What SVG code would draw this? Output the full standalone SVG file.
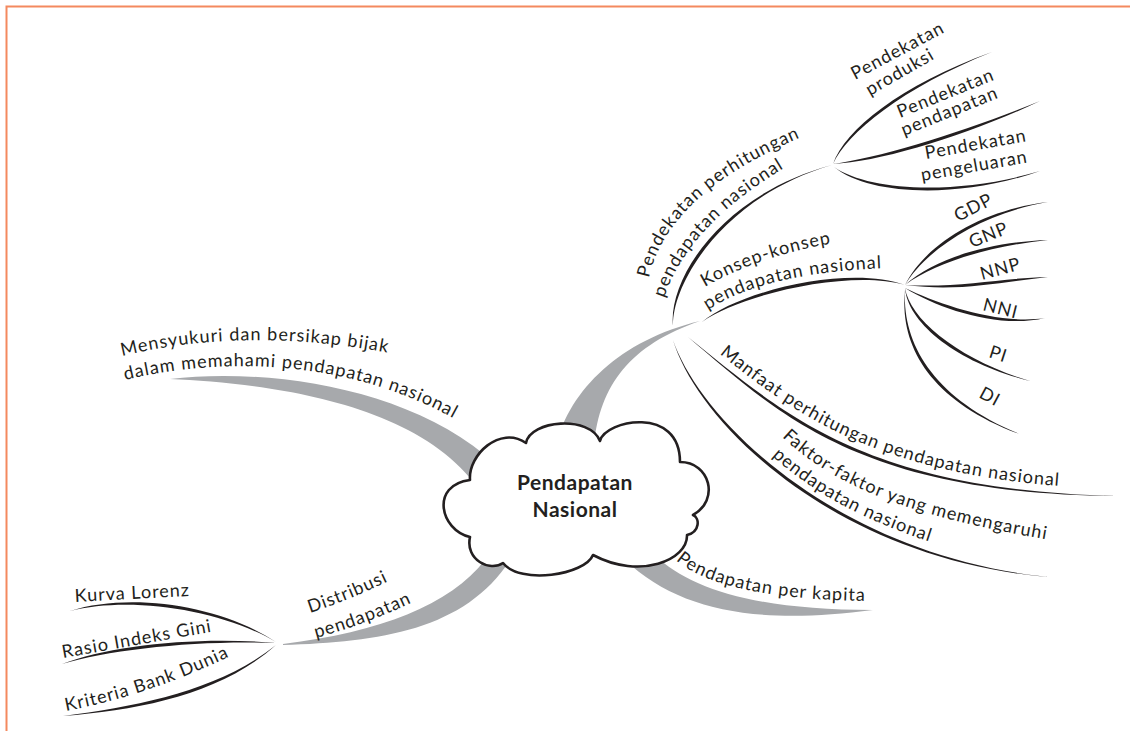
<svg xmlns="http://www.w3.org/2000/svg" xmlns:xlink="http://www.w3.org/1999/xlink" width="1130" height="731" viewBox="0 0 1130 731">
  <style>
    .frame { stroke: #f4895f; stroke-width: 2; fill: none; }
    .main { fill: #a7a9ac; }
    .sub { fill: #231f20; }
    .lbl { font-family: Lato, "Open Sans", "Liberation Sans", sans-serif; font-size: 18px; letter-spacing: 1px; fill: #231f20; }
    .core { font-family: Lato, "Open Sans", "Liberation Sans", sans-serif; font-size: 21px; letter-spacing: 0.5px; font-weight: bold; fill: #231f20; text-anchor: middle; }
    .cloud { fill: #ffffff; stroke: #231f20; stroke-width: 2.6; stroke-linejoin: round; }
  </style>
  <defs>
    <!-- baselines for curved labels -->
    <path id="p-mensy1" d="M122,356 Q250,325 400,355"/>
    <path id="p-mensy2" d="M125,380 C230,355 360,360 470,428"/>
    <path id="p-distr1" d="M310,613 Q350,600 395,578"/>
    <path id="p-distr2" d="M316,638 Q365,625 422,598"/>
    <path id="p-kapita" d="M676,560 C700,582 760,600 870,601"/>
    <path id="p-perh1" d="M649,278 Q668,190 814,132"/>
    <path id="p-perh2" d="M664,298 Q690,220 800,159"/>
    <path id="p-konsep1" d="M705,287 Q760,255 840,242"/>
    <path id="p-konsep2" d="M708,310 Q765,272 890,268"/>
    <path id="p-manfaat" d="M690,330 C782,403 862,483 1120,489"/>
    <path id="p-faktor1" d="M782,437 C830,482 900,515 1050,540"/>
    <path id="p-faktor2" d="M772,456 C810,490 860,520 940,545"/>
    <path id="p-kriteria" d="M66,711 Q150,695 235,654"/>
  </defs>

  <rect width="1130" height="731" fill="#ffffff"/>
  <!-- page frame -->
  <path class="frame" d="M6.5,731 L6.5,6.5 L1130,6.5"/>

  <g id="connectors">
    <!-- thick grey main branches -->
    <path class="main" d="M556,445 C570,390 620,340 700,321 C630,345 600,385 594,445 Z"/>
    <path class="main" d="M170,379 C260,368 400,385 485,455 L470,478 C405,400 260,383 170,379 Z"/>
    <path class="main" d="M283,645 C380,642 465,630 510,560 L485,560 C450,605 380,632 283,644 Z"/>
    <path class="main" d="M655,555 C690,590 760,610 873,610 C760,625 680,612 625,560 Z"/>

    <!-- tapered black sub-branches -->
    <path class="sub" d="M673,326 C668,280 720,195 832,165 C722,197 672,284 673,326 Z"/>
    <path class="sub" d="M833,164 C845,130 900,85 992,52 C902,88 847,133 833,164 Z"/>
    <path class="sub" d="M833,164 C880,158 970,130 1040,101 C971,134 881,162 833,164 Z"/>
    <path class="sub" d="M834,167 C870,192 960,195 1040,171 C960,199 870,196 834,167 Z"/>
    <path class="sub" d="M702,322 C740,290 850,265 905,285 C851,269 741,294 702,322 Z"/>
    <path class="sub" d="M905,285 C925,245 980,210 1048,202 C982,213.5 927,248.5 905,285 Z"/>
    <path class="sub" d="M905,285 C935,258 990,242 1048,240 C991,246 936,262 905,285 Z"/>
    <path class="sub" d="M905,285 C960,288 1000,278 1048,277 C1000,282 960,292 905,285 Z"/>
    <path class="sub" d="M905,288 C940,305 1000,325 1045,318 C999,329 939,309 905,288 Z"/>
    <path class="sub" d="M905,288 C910,320 960,360 1030,381 C957.6,363.2 907.6,323.2 905,288 Z"/>
    <path class="sub" d="M905,290 C902,345 935,400 1022,435 C932,402.5 899,347.5 905,290 Z"/>
    <path class="sub" d="M688,337 C780,410 860,490 1117,496 C858.6,493.8 778.6,413.8 688,337 Z"/>
    <path class="sub" d="M673,340 C700,420 840,560 1060,578 C838,563.4 698,423.4 673,340 Z"/>
    <path class="sub" d="M70,611 C130,592 220,605 276,642 C219.4,609 129.4,596 70,611 Z"/>
    <path class="sub" d="M62,664 C110,645 200,636 276,643 C200.4,640 110.4,649 62,664 Z"/>
    <path class="sub" d="M63,716 C140,706 220,690 276,645 C221.3,693.8 141.3,709.8 63,716 Z"/>
  </g>

  <g id="node-center">
    <path class="cloud" d="M470,480 C468,455 500,425 526,443 C530,420 590,415 600,441 C605,420 680,405 680,462 C710,462 720,500 693,515 C700,518 700,532 687,535 C688,560 640,580 593,555 C585,575 520,585 503,563 C490,572 465,560 470,537 C440,530 430,485 470,480 Z"/>
    <text class="core" x="575" y="490">Pendapatan</text>
    <text class="core" x="575" y="517">Nasional</text>
  </g>

  <g id="node-mensyukuri">
    <text class="lbl"><textPath xlink:href="#p-mensy1" href="#p-mensy1">Mensyukuri dan bersikap bijak</textPath></text>
    <text class="lbl"><textPath xlink:href="#p-mensy2" href="#p-mensy2">dalam memahami pendapatan nasional</textPath></text>
  </g>

  <g id="node-perhitungan">
    <text class="lbl"><textPath xlink:href="#p-perh1" href="#p-perh1">Pendekatan perhitungan</textPath></text>
    <text class="lbl"><textPath xlink:href="#p-perh2" href="#p-perh2">pendapatan nasional</textPath></text>
  </g>
  <g id="node-produksi">
    <text class="lbl" transform="translate(855,80) rotate(-28)">Pendekatan</text>
    <text class="lbl" transform="translate(870,96) rotate(-30)">produksi</text>
  </g>
  <g id="node-pendapatan">
    <text class="lbl" transform="translate(900,118) rotate(-22)">Pendekatan</text>
    <text class="lbl" transform="translate(904,136) rotate(-22)">pendapatan</text>
  </g>
  <g id="node-pengeluaran">
    <text class="lbl" transform="translate(926,159) rotate(-10)">Pendekatan</text>
    <text class="lbl" transform="translate(922,181) rotate(-10)">pengeluaran</text>
  </g>

  <g id="node-konsep">
    <text class="lbl"><textPath xlink:href="#p-konsep1" href="#p-konsep1">Konsep-konsep</textPath></text>
    <text class="lbl"><textPath xlink:href="#p-konsep2" href="#p-konsep2">pendapatan nasional</textPath></text>
  </g>
  <g id="node-gdp"><text class="lbl" transform="translate(958,222) rotate(-27)">GDP</text></g>
  <g id="node-gnp"><text class="lbl" transform="translate(972,248) rotate(-22)">GNP</text></g>
  <g id="node-nnp"><text class="lbl" transform="translate(982,280) rotate(-15)">NNP</text></g>
  <g id="node-nni"><text class="lbl" transform="translate(982,310) rotate(14)">NNI</text></g>
  <g id="node-pi"><text class="lbl" transform="translate(988,357) rotate(18)">PI</text></g>
  <g id="node-di"><text class="lbl" transform="translate(978,397) rotate(28)">DI</text></g>

  <g id="node-manfaat">
    <text class="lbl"><textPath xlink:href="#p-manfaat" href="#p-manfaat" startOffset="38">Manfaat perhitungan pendapatan nasional</textPath></text>
  </g>
  <g id="node-faktor">
    <text class="lbl"><textPath xlink:href="#p-faktor1" href="#p-faktor1">Faktor-faktor yang memengaruhi</textPath></text>
    <text class="lbl"><textPath xlink:href="#p-faktor2" href="#p-faktor2">pendapatan nasional</textPath></text>
  </g>

  <g id="node-kapita">
    <text class="lbl"><textPath xlink:href="#p-kapita" href="#p-kapita">Pendapatan per kapita</textPath></text>
  </g>

  <g id="node-distribusi">
    <text class="lbl"><textPath xlink:href="#p-distr1" href="#p-distr1">Distribusi</textPath></text>
    <text class="lbl"><textPath xlink:href="#p-distr2" href="#p-distr2">pendapatan</textPath></text>
  </g>
  <g id="node-lorenz"><text class="lbl" transform="translate(75,602) rotate(-3)">Kurva Lorenz</text></g>
  <g id="node-gini"><text class="lbl" transform="translate(63,658) rotate(-10)">Rasio Indeks Gini</text></g>
  <g id="node-kriteria">
    <text class="lbl"><textPath xlink:href="#p-kriteria" href="#p-kriteria">Kriteria Bank Dunia</textPath></text>
  </g>
</svg>
